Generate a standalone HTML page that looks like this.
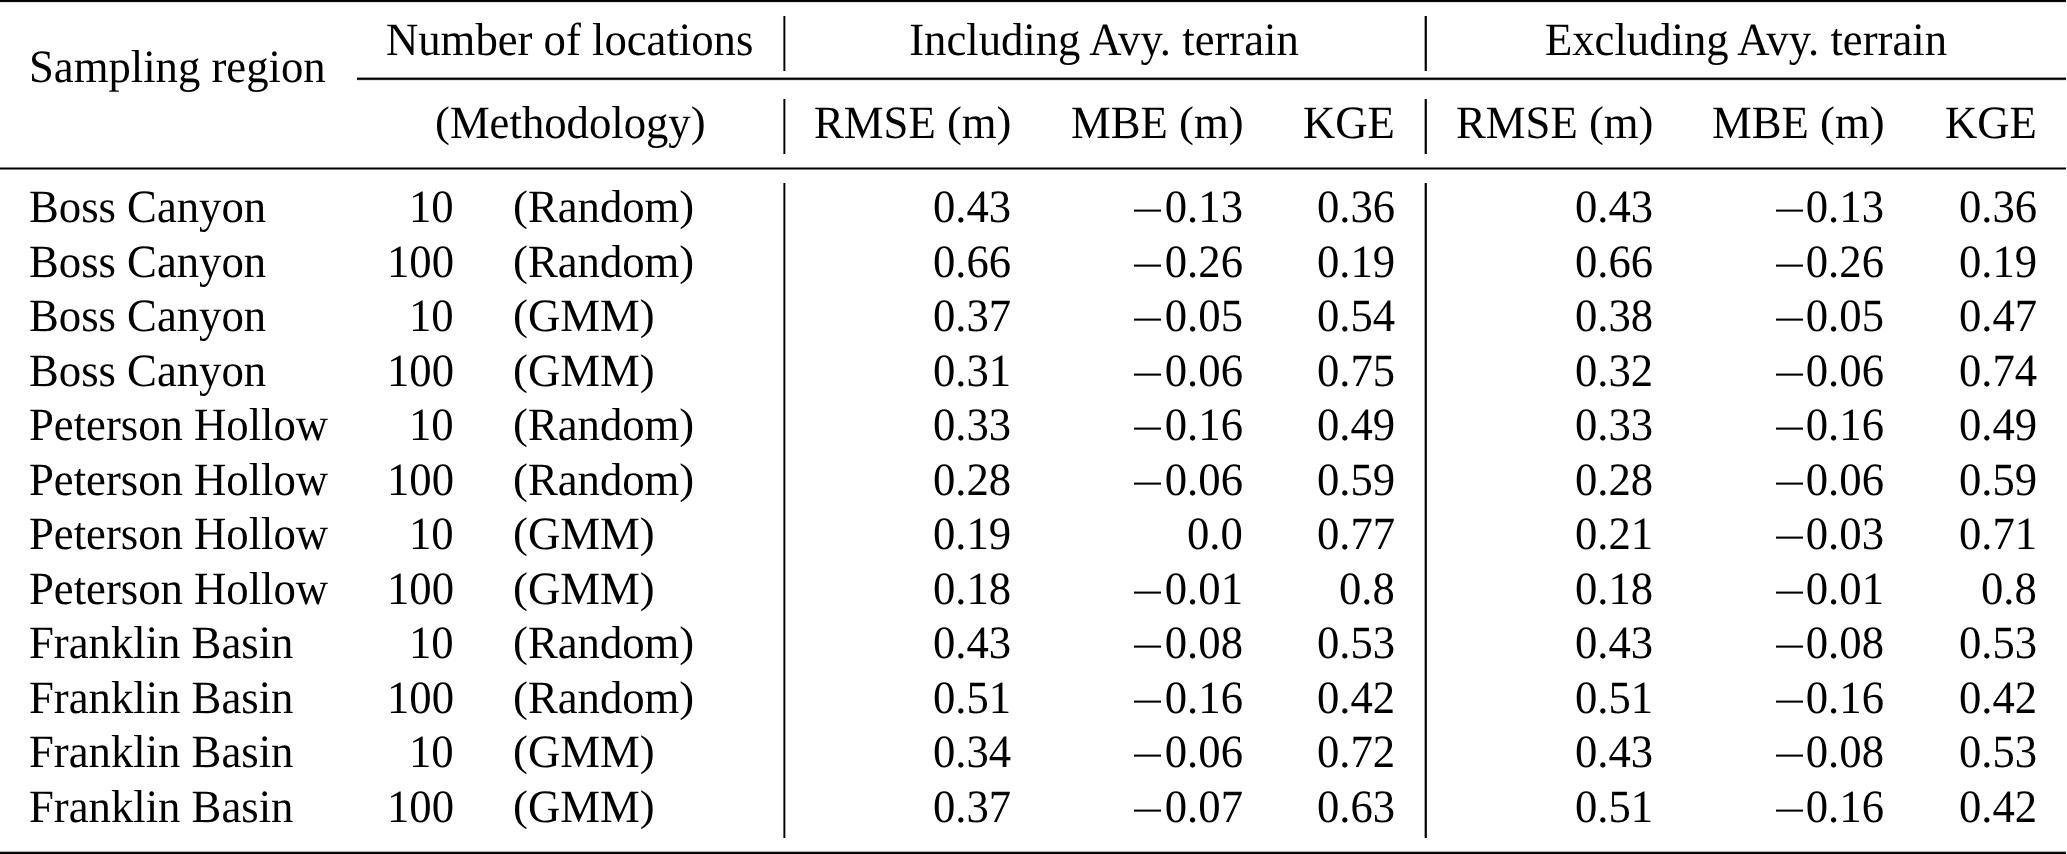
<!DOCTYPE html>
<html><head><meta charset="utf-8"><title>Table</title><style>
html,body{margin:0;padding:0;background:#fff;}
body{width:2067px;height:854px;position:relative;overflow:hidden;}
.t{position:absolute;transform:scaleY(1.035);transform-origin:0 40px;white-space:nowrap;text-rendering:geometricPrecision;font-family:"Liberation Serif",serif;font-size:44.7px;line-height:50px;height:50px;color:#000;will-change:transform;}
.c{transform:translateX(-50%) scaleY(1.035);}
.r{position:absolute;}
.p{display:inline-block;transform:scaleY(0.93);transform-origin:50% 9px;}
.m{display:inline-block;position:relative;width:0.7778em;color:transparent;vertical-align:baseline;}
.m2::before{margin-left:1px;}
.m::before{content:"";position:absolute;left:0.0833em;width:0.611em;top:28px;height:2px;background:#000;}
</style></head><body>
<div class="r" style="left:0px;top:0px;width:2066px;height:3px;background:linear-gradient(to bottom,rgba(0,0,0,1) 0px 1px,rgba(0,0,0,0.95) 1px 2px,rgba(0,0,0,0.12) 2px 3px)"></div>
<div class="r" style="left:357px;top:77px;width:1709px;height:4px;background:linear-gradient(to bottom,rgba(0,0,0,0.4) 0px 1px,rgba(0,0,0,1) 1px 2px,rgba(0,0,0,0.85) 2px 3px,rgba(0,0,0,0.1) 3px 4px)"></div>
<div class="r" style="left:0px;top:167px;width:2066px;height:3px;background:linear-gradient(to bottom,rgba(0,0,0,0.5) 0px 1px,rgba(0,0,0,1) 1px 2px,rgba(0,0,0,0.5) 2px 3px)"></div>
<div class="r" style="left:0px;top:851px;width:2066px;height:3px;background:linear-gradient(to bottom,rgba(0,0,0,0.3) 0px 1px,rgba(0,0,0,0.95) 1px 2px,rgba(0,0,0,1) 2px 3px)"></div>
<div class="r" style="left:783px;top:16px;width:3px;height:55px;background:linear-gradient(to right,rgba(0,0,0,0.6) 0px 1px,rgba(0,0,0,1) 1px 2px,rgba(0,0,0,0.35) 2px 3px)"></div>
<div class="r" style="left:783px;top:99px;width:3px;height:55px;background:linear-gradient(to right,rgba(0,0,0,0.6) 0px 1px,rgba(0,0,0,1) 1px 2px,rgba(0,0,0,0.35) 2px 3px)"></div>
<div class="r" style="left:783px;top:183px;width:3px;height:655px;background:linear-gradient(to right,rgba(0,0,0,0.6) 0px 1px,rgba(0,0,0,1) 1px 2px,rgba(0,0,0,0.35) 2px 3px)"></div>
<div class="r" style="left:1424px;top:16px;width:3px;height:55px;background:linear-gradient(to right,rgba(0,0,0,0.35) 0px 1px,rgba(0,0,0,1) 1px 2px,rgba(0,0,0,0.85) 2px 3px)"></div>
<div class="r" style="left:1424px;top:99px;width:3px;height:55px;background:linear-gradient(to right,rgba(0,0,0,0.35) 0px 1px,rgba(0,0,0,1) 1px 2px,rgba(0,0,0,0.85) 2px 3px)"></div>
<div class="r" style="left:1424px;top:183px;width:3px;height:655px;background:linear-gradient(to right,rgba(0,0,0,0.35) 0px 1px,rgba(0,0,0,1) 1px 2px,rgba(0,0,0,0.85) 2px 3px)"></div>
<div class="t" style="left:29.00px;top:42px">Sampling region</div>
<div class="t" style="left:386.10px;top:15px">Number of locations</div>
<div class="t" style="left:434.80px;top:98px"><span class="p">(</span>Methodology<span class="p">)</span></div>
<div class="t c" style="left:1103.90px;top:15px">Including Avy. terrain</div>
<div class="t c" style="left:1745.90px;top:15px">Excluding Avy. terrain</div>
<div class="t" style="right:1055.80px;top:98px">RMSE <span class="p">(</span>m<span class="p">)</span></div>
<div class="t" style="right:823.80px;top:98px">MBE <span class="p">(</span>m<span class="p">)</span></div>
<div class="t" style="right:671.70px;top:98px">KGE</div>
<div class="t" style="right:413.80px;top:98px">RMSE <span class="p">(</span>m<span class="p">)</span></div>
<div class="t" style="right:182.80px;top:98px">MBE <span class="p">(</span>m<span class="p">)</span></div>
<div class="t" style="right:30.20px;top:98px">KGE</div>
<div class="t" style="left:29.00px;top:182px">Boss Canyon</div>
<div class="t" style="right:1612.90px;top:182px">10</div>
<div class="t" style="left:513.00px;top:182px"><span class="p">(</span>Random<span class="p">)</span></div>
<div class="t" style="right:1055.80px;top:182px">0.43</div>
<div class="t" style="right:823.80px;top:182px"><span class="m">−</span>0.13</div>
<div class="t" style="right:671.70px;top:182px">0.36</div>
<div class="t" style="right:413.80px;top:182px">0.43</div>
<div class="t" style="right:182.80px;top:182px"><span class="m m2">−</span>0.13</div>
<div class="t" style="right:30.20px;top:182px">0.36</div>
<div class="t" style="left:29.00px;top:237px">Boss Canyon</div>
<div class="t" style="right:1612.90px;top:237px">100</div>
<div class="t" style="left:513.00px;top:237px"><span class="p">(</span>Random<span class="p">)</span></div>
<div class="t" style="right:1055.80px;top:237px">0.66</div>
<div class="t" style="right:823.80px;top:237px"><span class="m">−</span>0.26</div>
<div class="t" style="right:671.70px;top:237px">0.19</div>
<div class="t" style="right:413.80px;top:237px">0.66</div>
<div class="t" style="right:182.80px;top:237px"><span class="m m2">−</span>0.26</div>
<div class="t" style="right:30.20px;top:237px">0.19</div>
<div class="t" style="left:29.00px;top:291px">Boss Canyon</div>
<div class="t" style="right:1612.90px;top:291px">10</div>
<div class="t" style="left:513.00px;top:291px"><span class="p">(</span>GMM<span class="p">)</span></div>
<div class="t" style="right:1055.80px;top:291px">0.37</div>
<div class="t" style="right:823.80px;top:291px"><span class="m">−</span>0.05</div>
<div class="t" style="right:671.70px;top:291px">0.54</div>
<div class="t" style="right:413.80px;top:291px">0.38</div>
<div class="t" style="right:182.80px;top:291px"><span class="m m2">−</span>0.05</div>
<div class="t" style="right:30.20px;top:291px">0.47</div>
<div class="t" style="left:29.00px;top:346px">Boss Canyon</div>
<div class="t" style="right:1612.90px;top:346px">100</div>
<div class="t" style="left:513.00px;top:346px"><span class="p">(</span>GMM<span class="p">)</span></div>
<div class="t" style="right:1055.80px;top:346px">0.31</div>
<div class="t" style="right:823.80px;top:346px"><span class="m">−</span>0.06</div>
<div class="t" style="right:671.70px;top:346px">0.75</div>
<div class="t" style="right:413.80px;top:346px">0.32</div>
<div class="t" style="right:182.80px;top:346px"><span class="m m2">−</span>0.06</div>
<div class="t" style="right:30.20px;top:346px">0.74</div>
<div class="t" style="left:29.00px;top:400px">Peterson Hollow</div>
<div class="t" style="right:1612.90px;top:400px">10</div>
<div class="t" style="left:513.00px;top:400px"><span class="p">(</span>Random<span class="p">)</span></div>
<div class="t" style="right:1055.80px;top:400px">0.33</div>
<div class="t" style="right:823.80px;top:400px"><span class="m">−</span>0.16</div>
<div class="t" style="right:671.70px;top:400px">0.49</div>
<div class="t" style="right:413.80px;top:400px">0.33</div>
<div class="t" style="right:182.80px;top:400px"><span class="m m2">−</span>0.16</div>
<div class="t" style="right:30.20px;top:400px">0.49</div>
<div class="t" style="left:29.00px;top:455px">Peterson Hollow</div>
<div class="t" style="right:1612.90px;top:455px">100</div>
<div class="t" style="left:513.00px;top:455px"><span class="p">(</span>Random<span class="p">)</span></div>
<div class="t" style="right:1055.80px;top:455px">0.28</div>
<div class="t" style="right:823.80px;top:455px"><span class="m">−</span>0.06</div>
<div class="t" style="right:671.70px;top:455px">0.59</div>
<div class="t" style="right:413.80px;top:455px">0.28</div>
<div class="t" style="right:182.80px;top:455px"><span class="m m2">−</span>0.06</div>
<div class="t" style="right:30.20px;top:455px">0.59</div>
<div class="t" style="left:29.00px;top:509px">Peterson Hollow</div>
<div class="t" style="right:1612.90px;top:509px">10</div>
<div class="t" style="left:513.00px;top:509px"><span class="p">(</span>GMM<span class="p">)</span></div>
<div class="t" style="right:1055.80px;top:509px">0.19</div>
<div class="t" style="right:823.80px;top:509px">0.0</div>
<div class="t" style="right:671.70px;top:509px">0.77</div>
<div class="t" style="right:413.80px;top:509px">0.21</div>
<div class="t" style="right:182.80px;top:509px"><span class="m m2">−</span>0.03</div>
<div class="t" style="right:30.20px;top:509px">0.71</div>
<div class="t" style="left:29.00px;top:564px">Peterson Hollow</div>
<div class="t" style="right:1612.90px;top:564px">100</div>
<div class="t" style="left:513.00px;top:564px"><span class="p">(</span>GMM<span class="p">)</span></div>
<div class="t" style="right:1055.80px;top:564px">0.18</div>
<div class="t" style="right:823.80px;top:564px"><span class="m">−</span>0.01</div>
<div class="t" style="right:671.70px;top:564px">0.8</div>
<div class="t" style="right:413.80px;top:564px">0.18</div>
<div class="t" style="right:182.80px;top:564px"><span class="m m2">−</span>0.01</div>
<div class="t" style="right:30.20px;top:564px">0.8</div>
<div class="t" style="left:29.00px;top:618px">Franklin Basin</div>
<div class="t" style="right:1612.90px;top:618px">10</div>
<div class="t" style="left:513.00px;top:618px"><span class="p">(</span>Random<span class="p">)</span></div>
<div class="t" style="right:1055.80px;top:618px">0.43</div>
<div class="t" style="right:823.80px;top:618px"><span class="m">−</span>0.08</div>
<div class="t" style="right:671.70px;top:618px">0.53</div>
<div class="t" style="right:413.80px;top:618px">0.43</div>
<div class="t" style="right:182.80px;top:618px"><span class="m m2">−</span>0.08</div>
<div class="t" style="right:30.20px;top:618px">0.53</div>
<div class="t" style="left:29.00px;top:673px">Franklin Basin</div>
<div class="t" style="right:1612.90px;top:673px">100</div>
<div class="t" style="left:513.00px;top:673px"><span class="p">(</span>Random<span class="p">)</span></div>
<div class="t" style="right:1055.80px;top:673px">0.51</div>
<div class="t" style="right:823.80px;top:673px"><span class="m">−</span>0.16</div>
<div class="t" style="right:671.70px;top:673px">0.42</div>
<div class="t" style="right:413.80px;top:673px">0.51</div>
<div class="t" style="right:182.80px;top:673px"><span class="m m2">−</span>0.16</div>
<div class="t" style="right:30.20px;top:673px">0.42</div>
<div class="t" style="left:29.00px;top:727px">Franklin Basin</div>
<div class="t" style="right:1612.90px;top:727px">10</div>
<div class="t" style="left:513.00px;top:727px"><span class="p">(</span>GMM<span class="p">)</span></div>
<div class="t" style="right:1055.80px;top:727px">0.34</div>
<div class="t" style="right:823.80px;top:727px"><span class="m">−</span>0.06</div>
<div class="t" style="right:671.70px;top:727px">0.72</div>
<div class="t" style="right:413.80px;top:727px">0.43</div>
<div class="t" style="right:182.80px;top:727px"><span class="m m2">−</span>0.08</div>
<div class="t" style="right:30.20px;top:727px">0.53</div>
<div class="t" style="left:29.00px;top:782px">Franklin Basin</div>
<div class="t" style="right:1612.90px;top:782px">100</div>
<div class="t" style="left:513.00px;top:782px"><span class="p">(</span>GMM<span class="p">)</span></div>
<div class="t" style="right:1055.80px;top:782px">0.37</div>
<div class="t" style="right:823.80px;top:782px"><span class="m">−</span>0.07</div>
<div class="t" style="right:671.70px;top:782px">0.63</div>
<div class="t" style="right:413.80px;top:782px">0.51</div>
<div class="t" style="right:182.80px;top:782px"><span class="m m2">−</span>0.16</div>
<div class="t" style="right:30.20px;top:782px">0.42</div>
</body></html>
